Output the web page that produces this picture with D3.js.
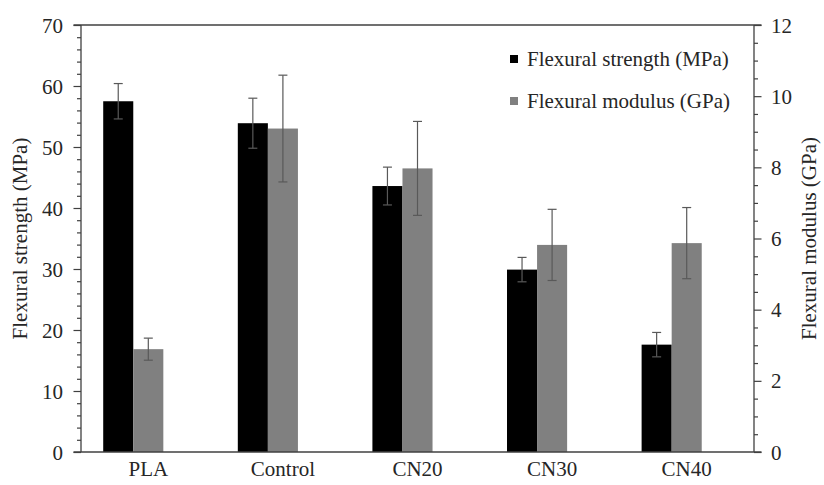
<!DOCTYPE html>
<html>
<head>
<meta charset="utf-8">
<script src="https://cdn.jsdelivr.net/npm/d3@7"></script>
<style>
  html, body { margin: 0; padding: 0; background: #fff; }
  svg { display: block; }
  svg text { font-family: "Liberation Serif", "Times New Roman", serif; }
</style>
</head>
<body>
<svg id="chart" width="824" height="485"></svg>
<script>
// Samples and measured properties
const categories = ["PLA", "Control", "CN20", "CN30", "CN40"];
const strengthMPa = [57.5, 53.9, 43.6, 29.9, 17.6];
const strengthErr = [2.9, 4.1, 3.1, 2.0, 2.0];
const modulusGPa = [2.89, 9.09, 7.97, 5.82, 5.87];
const modulusErr = [0.31, 1.5, 1.32, 1.0, 1.0];
const leftTicks = [0, 10, 20, 30, 40, 50, 60, 70];
const rightTicks = [0, 2, 4, 6, 8, 10, 12];
const seriesNames = ["Flexural strength (MPa)", "Flexural modulus (GPa)"];

const W = 824, H = 485;
const plot = { left: 81, right: 754, top: 25, bottom: 452 };
const axisColor = "#404040";
const errColor = "#595959";
const textColor = "#262626";
const fontFamily = "'Liberation Serif', 'Times New Roman', serif";
const fontSize = 21;

const svg = d3.select("#chart");
svg.append("rect").attr("width", W).attr("height", H).attr("fill", "#fff");

// Category bands; each band holds three slots, the bars use the first two
const x0 = d3.scaleBand().domain(categories).range([plot.left, plot.right])
  .paddingInner(0.33).paddingOuter(0.165);
const x1 = d3.scaleBand().domain(["s", "m", "spare"]).range([0, x0.bandwidth()]);
const yL = d3.scaleLinear().domain([0, 70]).range([plot.bottom, plot.top]);
const yR = d3.scaleLinear().domain([0, 12]).range([plot.bottom, plot.top]);

const rows = categories.map((c, i) => ({
  c, s: strengthMPa[i], se: strengthErr[i], m: modulusGPa[i], me: modulusErr[i]
}));

// Bars
const g = svg.append("g");
g.selectAll("rect.s").data(rows).join("rect").attr("class", "s")
  .attr("x", d => x0(d.c) + x1("s")).attr("width", x1.bandwidth())
  .attr("y", d => yL(d.s)).attr("height", d => yL(0) - yL(d.s))
  .attr("fill", "#000");
g.selectAll("rect.m").data(rows).join("rect").attr("class", "m")
  .attr("x", d => x0(d.c) + x1("m")).attr("width", x1.bandwidth())
  .attr("y", d => yR(d.m)).attr("height", d => yR(0) - yR(d.m))
  .attr("fill", "#808080");

// Error bars
function errorBars(key, errKey, slot, scale) {
  const eg = svg.append("g").attr("stroke", errColor).attr("stroke-width", 1.2);
  rows.forEach(d => {
    const cx = x0(d.c) + x1(slot) + x1.bandwidth() / 2;
    const hi = scale(d[key] + d[errKey]), lo = scale(d[key] - d[errKey]);
    eg.append("line").attr("x1", cx).attr("x2", cx).attr("y1", hi).attr("y2", lo);
    eg.append("line").attr("x1", cx - 4.5).attr("x2", cx + 4.5).attr("y1", hi).attr("y2", hi);
    eg.append("line").attr("x1", cx - 4.5).attr("x2", cx + 4.5).attr("y1", lo).attr("y2", lo);
  });
}
errorBars("s", "se", "s", yL);
errorBars("m", "me", "m", yR);

// Left axis with minor ticks
const leftAxis = svg.append("g").attr("transform", `translate(${plot.left},0)`);
leftAxis.call(d3.axisLeft(yL).tickValues(d3.range(0, 70.01, 2)).tickSize(4).tickFormat(""));
leftAxis.attr("font-family", fontFamily);
leftAxis.selectAll(".tick").filter(d => leftTicks.includes(d)).select("line").attr("x2", -7.5);
leftAxis.selectAll(".domain").remove();
leftAxis.selectAll("line").attr("stroke", axisColor).attr("stroke-width", 1.2);
leftAxis.selectAll(".tick").filter(d => leftTicks.includes(d)).append("text")
  .attr("x", -18).attr("dy", "0.34em").attr("text-anchor", "end")
  .attr("fill", textColor).attr("font-family", fontFamily).attr("font-size", fontSize).text(d => d);

// Right axis with minor ticks
const rightAxis = svg.append("g").attr("transform", `translate(${plot.right},0)`);
rightAxis.call(d3.axisRight(yR).tickValues(d3.range(0, 12.01, 0.5)).tickSize(4).tickFormat(""));
rightAxis.attr("font-family", fontFamily);
rightAxis.selectAll(".tick").filter(d => rightTicks.includes(d)).select("line").attr("x2", 7.5);
rightAxis.selectAll(".domain").remove();
rightAxis.selectAll("line").attr("stroke", axisColor).attr("stroke-width", 1.2);
rightAxis.selectAll(".tick").filter(d => rightTicks.includes(d)).append("text")
  .attr("x", 17).attr("dy", "0.34em").attr("text-anchor", "start")
  .attr("fill", textColor).attr("font-family", fontFamily).attr("font-size", fontSize).text(d => d);

// Frame lines: both vertical axes, the baseline and the top edge
const frame = svg.append("g").attr("stroke", axisColor).attr("stroke-width", 1.3);
frame.append("line").attr("x1", plot.left).attr("x2", plot.left).attr("y1", plot.top).attr("y2", plot.bottom);
frame.append("line").attr("x1", plot.right).attr("x2", plot.right).attr("y1", plot.top).attr("y2", plot.bottom);
frame.append("line").attr("x1", plot.left - 7.5).attr("x2", plot.right + 7.5).attr("y1", plot.bottom).attr("y2", plot.bottom);
frame.append("line").attr("x1", plot.left - 7.5).attr("x2", plot.right + 7.5).attr("y1", plot.top).attr("y2", plot.top);

// Category labels
svg.append("g").selectAll("text").data(categories).join("text")
  .attr("x", d => x0(d) + x0.bandwidth() / 2).attr("y", 476)
  .attr("text-anchor", "middle").attr("fill", textColor)
  .attr("font-family", fontFamily).attr("font-size", fontSize)
  .text(d => d);

// Axis titles
svg.append("text").attr("transform", `translate(27,${(plot.top + plot.bottom) / 2}) rotate(-90)`)
  .attr("text-anchor", "middle").attr("fill", textColor)
  .attr("font-family", fontFamily).attr("font-size", fontSize)
  .text("Flexural strength (MPa)");
svg.append("text").attr("transform", `translate(816,${(plot.top + plot.bottom) / 2}) rotate(-90)`)
  .attr("text-anchor", "middle").attr("fill", textColor)
  .attr("font-family", fontFamily).attr("font-size", fontSize)
  .text("Flexural modulus (GPa)");

// Legend
const legend = svg.append("g");
const legendRows = [{ name: seriesNames[0], color: "#000", y: 59 }, { name: seriesNames[1], color: "#808080", y: 101 }];
legendRows.forEach(r => {
  legend.append("rect").attr("x", 510).attr("y", r.y - 4).attr("width", 8).attr("height", 8).attr("fill", r.color);
  legend.append("text").attr("x", 527).attr("y", r.y).attr("dy", "0.34em")
    .attr("fill", textColor).attr("font-family", fontFamily).attr("font-size", fontSize).text(r.name);
});
</script>
</body>
</html>
